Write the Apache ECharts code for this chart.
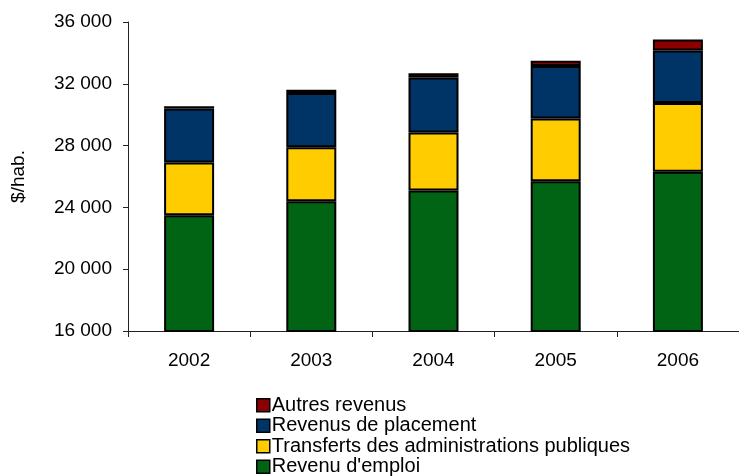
<!DOCTYPE html>
<html>
<head>
<meta charset="utf-8">
<script src="https://cdn.jsdelivr.net/npm/echarts@6/dist/echarts.min.js"></script>
<style>
  html, body { margin: 0; padding: 0; background: #fff; }
  #chart { width: 739px; height: 476px; }
</style>
</head>
<body>
<div id="chart"></div>
<script>
// années
var years = ['2002', '2003', '2004', '2005', '2006'];

// composantes du revenu personnel ($/hab.)
var revenuEmploi = [23500, 24400, 25100, 25700, 26300];
var transferts = [3400, 3500, 3750, 4050, 4450];
var placement = [3500, 3500, 3550, 3400, 3400];
var autres = [150, 220, 290, 350, 710];

var yTicks = { min: 16000, max: 36000, interval: 4000 };

var font = 'Liberation Sans, Arial, sans-serif';

function fmt(v) {
    return String(v).replace(/\B(?=(\d{3})+(?!\d))/g, ' ');
}

function bar(name, data, color) {
    return {
        name: name,
        type: 'bar',
        stack: 'total',
        data: data,
        barWidth: 50,
        itemStyle: { color: color, borderColor: '#000', borderWidth: 2 }
    };
}

var chart = echarts.init(document.getElementById('chart'));
chart.setOption({
    animation: false,
    backgroundColor: '#fff',
    textStyle: { fontFamily: font },
    grid: { left: 128, top: 22, width: 617.5, bottom: 145 },
    legend: {
        orient: 'vertical',
        left: 251,
        top: 390,
        height: 120,
        icon: 'rect',
        itemWidth: 13,
        itemHeight: 13,
        itemGap: 0,
        itemStyle: { borderColor: '#000', borderWidth: 1.5 },
        textStyle: { fontFamily: font, fontSize: 20, color: '#000', lineHeight: 20.5, padding: [0, 0, 0, -3] },
        data: ['Autres revenus', 'Revenus de placement', 'Transferts des administrations publiques', "Revenu d'emploi"]
    },
    xAxis: {
        type: 'category',
        data: years,
        axisLine: { lineStyle: { color: '#222', width: 1 } },
        axisTick: { show: true, length: 6, lineStyle: { color: '#222' } },
        axisLabel: { fontSize: 19, color: '#000', margin: 20, fontFamily: font }
    },
    yAxis: {
        type: 'value',
        min: yTicks.min,
        max: yTicks.max,
        interval: yTicks.interval,
        name: '$/hab.',
        nameLocation: 'middle',
        nameGap: 100,
        nameTextStyle: { fontSize: 19, color: '#000', fontFamily: font },
        splitLine: { show: false },
        axisLine: { show: true, lineStyle: { color: '#222', width: 1 } },
        axisTick: { show: true, length: 5, lineStyle: { color: '#222' } },
        axisLabel: { fontSize: 19, color: '#000', margin: 16, fontFamily: font, formatter: fmt }
    },
    series: [
        bar("Revenu d'emploi", revenuEmploi, '#006414'),
        bar('Transferts des administrations publiques', transferts, '#FFCC00'),
        bar('Revenus de placement', placement, '#003366'),
        bar('Autres revenus', autres, '#8B0000')
    ]
});
</script>
</body>
</html>
